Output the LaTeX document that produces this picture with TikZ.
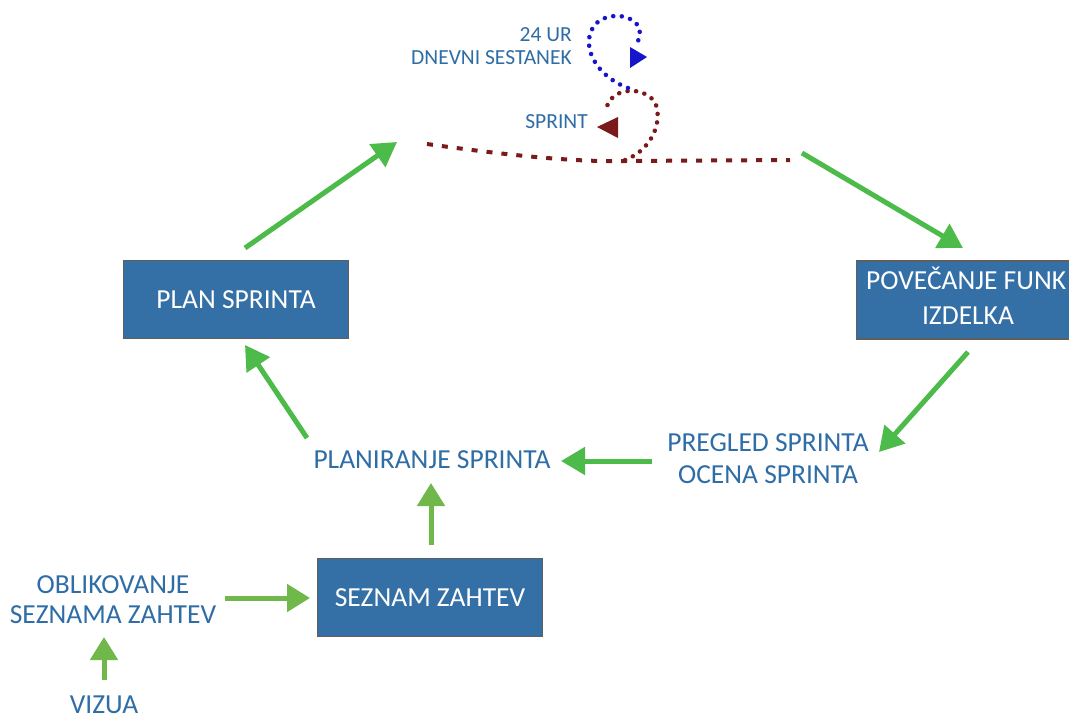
\documentclass[tikz,border=0pt]{standalone}
\usepackage{fontspec}
\setmainfont{Carlito}
\usetikzlibrary{arrows.meta}
\definecolor{boxblue}{HTML}{3470A6}
\definecolor{txtblue}{HTML}{2F6DA6}
\definecolor{gA}{HTML}{4CBB4A}
\definecolor{gB}{HTML}{70B84A}
\definecolor{dred}{HTML}{7A1A1A}
\definecolor{dblue}{HTML}{1515CC}
\definecolor{edgegray}{HTML}{5F5F5F}
\begin{document}
\begin{tikzpicture}[x=1pt,y=-1pt,
  box/.style={draw=edgegray,line width=1.5pt,fill=boxblue,text=white,minimum width=225pt,minimum height=78pt,font=\fontsize{27.5}{32}\selectfont,inner sep=0pt},
  boxtxt/.style={text=white,font=\fontsize{27.5}{32}\selectfont,inner sep=0pt,anchor=base},
  lbl/.style={text=txtblue,font=\fontsize{27.5}{32}\selectfont,inner sep=0pt,anchor=base},
  small/.style={text=txtblue,font=\fontsize{21.5}{24}\selectfont,inner sep=0pt,anchor=base east},
  garrow/.style={draw=gA,line width=5pt,-{Triangle[length=24pt,width=27pt]}},
  larrow/.style={draw=gB,line width=5pt,-{Triangle[length=23pt,width=27pt]}},
  dotline/.style={line width=4.5pt,line cap=round,dash pattern=on 0.1pt off 8.5pt},
  ]
\clip (0,0) rectangle (1069,718);
\fill[white] (0,0) rectangle (1069,718);

% boxes
\node[box] (plan) at (236,299.5) {PLAN SPRINTA};
\node[box] (sez) at (430,597.5) {SEZNAM ZAHTEV};
\node[box] (pov) at (969,300) {};
\node[boxtxt,anchor=base west] (pov1) at (866,289) {POVEČANJE FUNK};
\node[boxtxt] (pov2) at (968,324) {IZDELKA};

% labels
\node[lbl] (planir) at (432,468) {PLANIRANJE SPRINTA};
\node[lbl] (pregl) at (768,451) {PREGLED SPRINTA};
\node[lbl] (ocena) at (768,483) {OCENA SPRINTA};
\node[lbl] (obl1) at (113,593) {OBLIKOVANJE};
\node[lbl] (obl2) at (113,623) {SEZNAMA ZAHTEV};
\node[lbl] (viz) at (104,713) {VIZUA};
\node[small] (ur) at (572,41) {24 UR};
\node[small] (dnev) at (572,64) {DNEVNI SESTANEK};
\node[small] (spr) at (588,128) {SPRINT};

% arrow end points
\coordinate (a1s) at (245,248);
\coordinate (a1e) at (397,142);
\coordinate (a2s) at (802,153);
\coordinate (a2e) at (963,248);
\coordinate (a3s) at (968,352);
\coordinate (a3e) at (879,452);
\coordinate (a4s) at (652,461);
\coordinate (a4e) at (561,461);
\coordinate (a5s) at (307,438);
\coordinate (a5e) at (245,345);
\coordinate (a6s) at (431,545);
\coordinate (a6e) at (431,483);
\coordinate (a7s) at (225,598);
\coordinate (a7e) at (310,598);
\coordinate (a8s) at (104,680);
\coordinate (a8e) at (104,637);

\draw[garrow] (a1s) -- (a1e);
\draw[garrow] (a2s) -- (a2e);
\draw[garrow] (a3s) -- (a3e);
\draw[garrow] (a4s) -- (a4e);
\draw[garrow] (a5s) -- (a5e);
\draw[larrow] (a6s) -- (a6e);
\draw[larrow] (a7s) -- (a7e);
\draw[larrow] (a8s) -- (a8e);

% sprint line and loops
\draw[dred,line width=4pt,dash pattern=on 6pt off 9pt] (427,144) .. controls (520,157) and (580,162) .. (625,161) -- (790,160);
\draw[dred,dotline] (625,160) .. controls (652,150) and (662,122) .. (656,105) .. controls (650,88) and (615,84) .. (607,106);
\fill[dred] (597,127) -- (618,117) -- (618,138) -- cycle;
\draw[dblue,dotline] (628,88) .. controls (596,76) and (580,46) .. (594,26) .. controls (604,12) and (634,12) .. (640,30) -- (638,42);
\fill[dblue] (647,57) -- (630,47) -- (630,68) -- cycle;
\end{tikzpicture}
\end{document}
